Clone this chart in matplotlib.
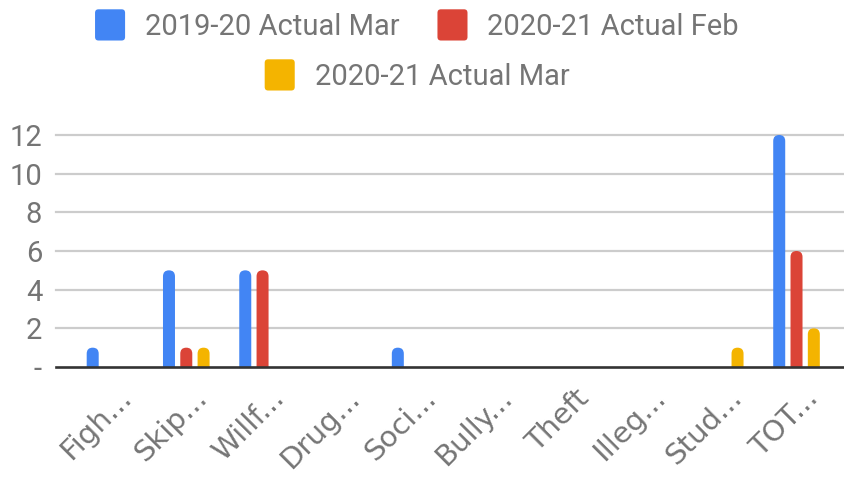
import matplotlib
matplotlib.use("Agg")
import matplotlib.pyplot as plt
import numpy as np
from matplotlib.patches import FancyBboxPatch, Patch
from matplotlib.legend_handler import HandlerPatch
from matplotlib.transforms import ScaledTranslation

categories = ["Figh...", "Skip...", "Willf...", "Drug...", "Soci...",
              "Bully...", "Theft", "Illeg...", "Stud...", "TOT..."]
series_names = ["2019-20 Actual Mar", "2020-21 Actual Feb", "2020-21 Actual Mar"]
mar_2019_20 = [1, 5, 5, 0, 1, 0, 0, 0, 0, 12]
feb_2020_21 = [0, 1, 5, 0, 0, 0, 0, 0, 0, 6]
mar_2020_21 = [0, 1, 0, 0, 0, 0, 0, 0, 1, 2]
y_ticks = [0, 2, 4, 6, 8, 10, 12]
y_tick_labels = ["-", "2", "4", "6", "8", "10", "12"]

colors = ["#4285F4", "#DB4437", "#F4B400"]
text_color = "#757575"
plt.rcParams['font.family'] = ['Roboto', 'DejaVu Sans']

W, H = 844, 478
fig = plt.figure(figsize=(W / 100, H / 100), dpi=100)
ax_left, ax_right = 56, 844
y_zero, y_twelve = 367, 135
px_per_unit = (y_zero - y_twelve) / 12.0
ytop = 12.6
ax_top_px = y_zero - ytop * px_per_unit
ax = fig.add_axes([ax_left / W, (H - y_zero) / H, (ax_right - ax_left) / W,
                   (y_zero - ax_top_px) / H])

cat_px0, cat_step = 110.0, 76.28
ax.set_xlim((ax_left - cat_px0) / cat_step, (ax_right - cat_px0) / cat_step)
ax.set_ylim(0, ytop)

x = np.arange(len(categories))
bar_w = 12 / cat_step
offset = 17.3 / cat_step
all_series = [mar_2019_20, feb_2020_21, mar_2020_21]

# aspect for rounded tops
aspect = (1 / px_per_unit) / (1 / cat_step)
radius = bar_w / 2
for si, (vals, col) in enumerate(zip(all_series, colors)):
    bars = ax.bar(x + (si - 1) * offset, vals, width=bar_w, color=col, zorder=3)
    for rect, v in zip(bars, vals):
        rect.set_visible(False)
        if v <= 0:
            continue
        r_y = radius * aspect
        p = FancyBboxPatch((rect.get_x(), -r_y), rect.get_width(), v + r_y,
                           boxstyle=f"round,pad=0,rounding_size={radius}",
                           mutation_aspect=aspect, facecolor=col,
                           edgecolor="none", zorder=3)
        ax.add_patch(p)

# grid and baseline
ax.set_yticks(y_ticks)
ax.set_yticklabels(y_tick_labels)
for t in y_ticks[1:]:
    ax.axhline(t, color="#cccccc", lw=1.6, zorder=1, clip_on=False)
ax.axhline(0, color="#333333", lw=1.9, zorder=4, clip_on=False)
for s in ax.spines.values():
    s.set_visible(False)
ax.tick_params(axis="y", length=0, pad=10, labelsize=21, labelcolor=text_color)
ax.tick_params(axis="x", length=0, pad=12, labelsize=21, labelcolor=text_color)

ax.set_xticks(x)
ax.set_xticklabels(categories, rotation=45, ha="right", va="top",
                   rotation_mode="anchor", family="DejaVu Sans")
for lab in ax.get_xticklabels():
    lab.set_transform(lab.get_transform() + ScaledTranslation(7 / 100, 0, fig.dpi_scale_trans))


class RoundHandler(HandlerPatch):
    def create_artists(self, legend, orig_handle, xdescent, ydescent, width,
                       height, fontsize, trans):
        p = FancyBboxPatch((-xdescent, -ydescent), width, height,
                           boxstyle="round,pad=0,rounding_size=2.5",
                           facecolor=orig_handle.get_facecolor(),
                           edgecolor="none", transform=trans)
        return [p]


handles = [Patch(facecolor=c) for c in colors]
common = dict(frameon=False, fontsize=21, labelcolor=text_color,
              handlelength=1.03, handleheight=1.27, handletextpad=0.68,
              columnspacing=1.3, borderpad=0, borderaxespad=0, loc="center",
              handler_map={Patch: RoundHandler()})
leg1 = fig.legend(handles[:2], series_names[:2], ncol=2,
                  bbox_to_anchor=(417 / W, 1 - 25 / H), **common)
leg2 = fig.legend(handles[2:], series_names[2:], ncol=1,
                  bbox_to_anchor=(417 / W, 1 - 75 / H), **common)

fig.savefig("out.png", dpi=100)
